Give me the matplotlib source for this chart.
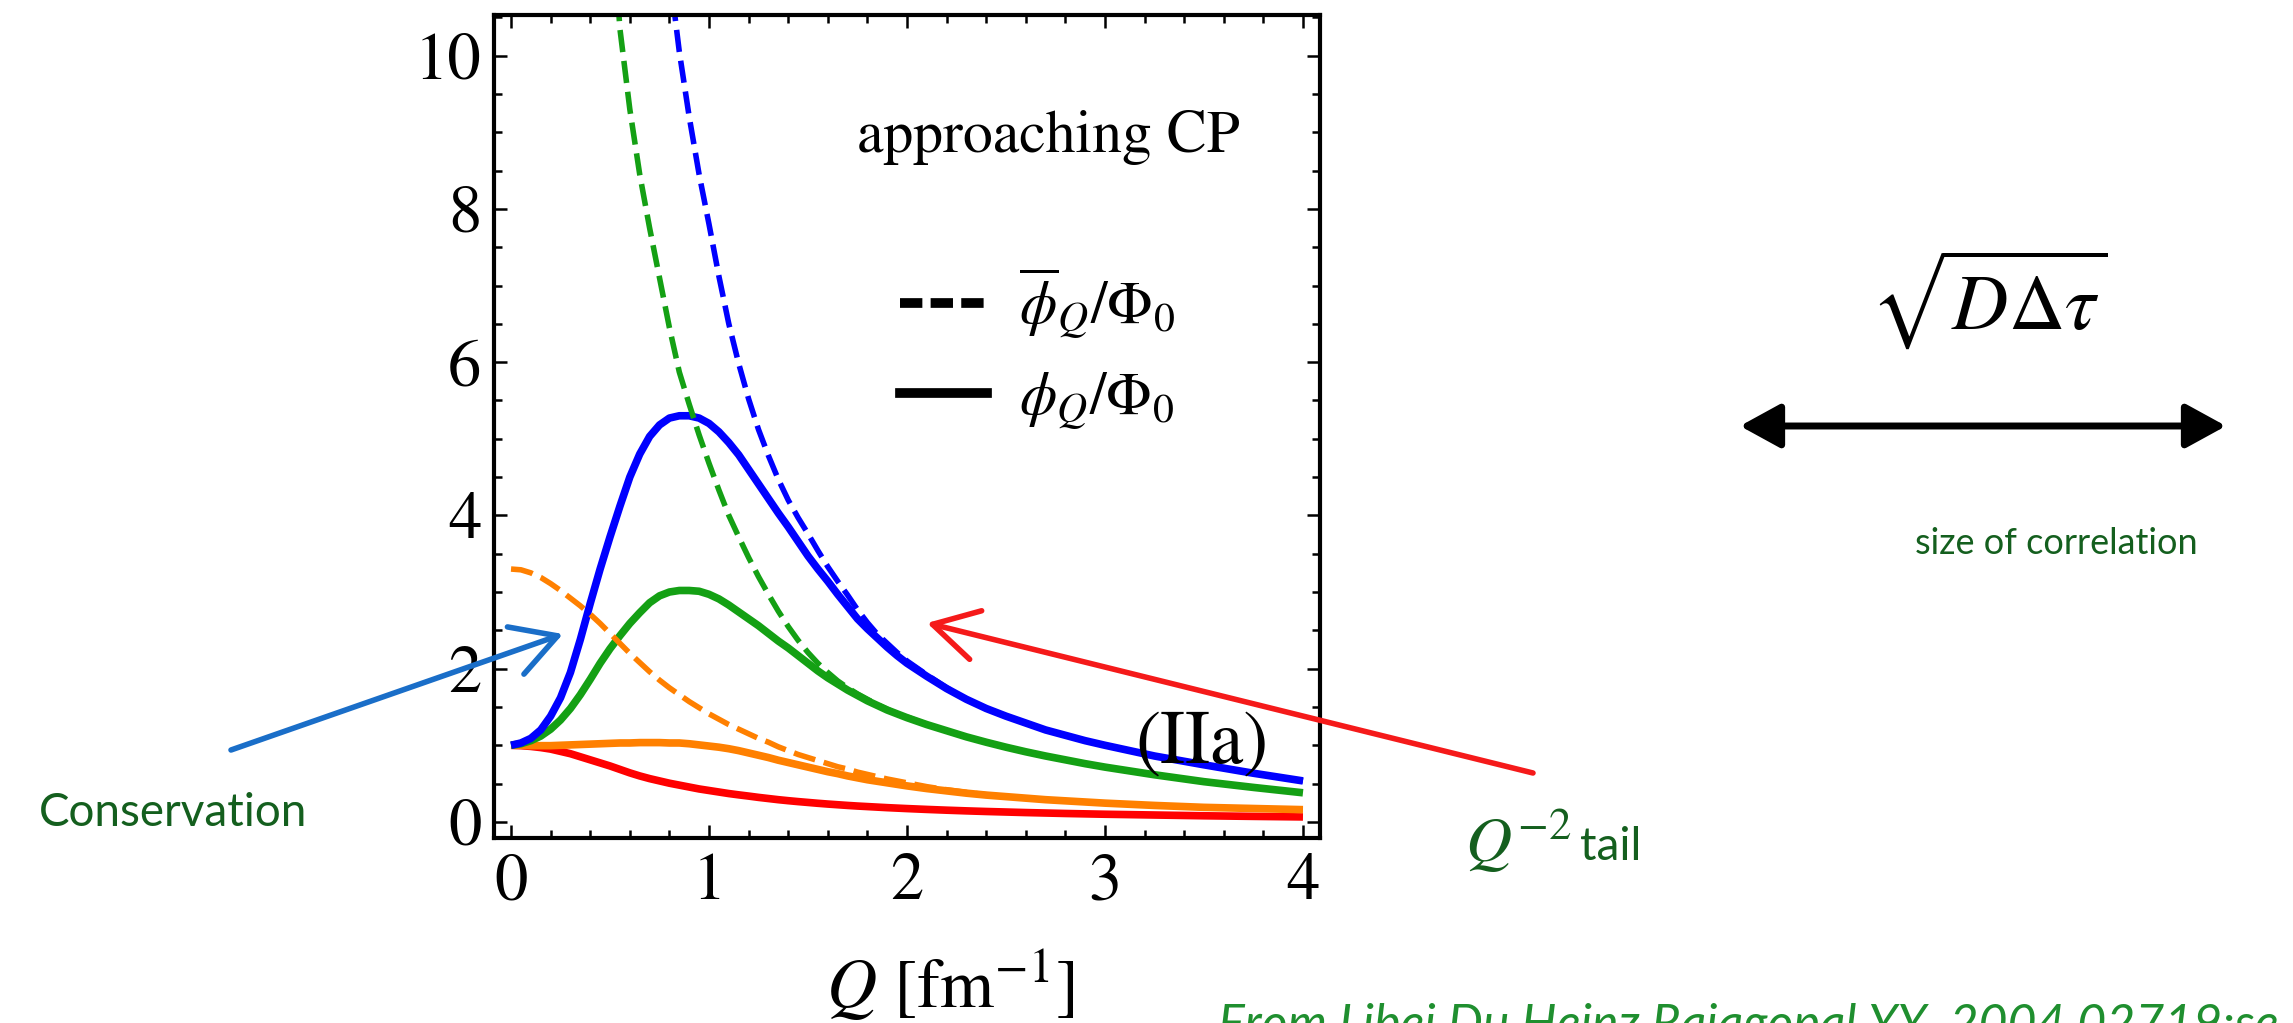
import matplotlib.pyplot as plt
from matplotlib.lines import Line2D
from matplotlib.patches import FancyArrowPatch
from matplotlib.ticker import MultipleLocator

plt.rcParams['mathtext.fontset'] = 'stix'
plt.rcParams['font.family'] = 'STIXGeneral'

# Q grid for the solid curves and the orange dashed one
q = [0.0, 0.05, 0.1, 0.15, 0.2, 0.25, 0.3, 0.35, 0.4, 0.45, 0.5, 0.55, 0.6, 0.65, 0.7,
     0.75, 0.8, 0.85, 0.9, 0.95, 1.0, 1.05, 1.1, 1.15, 1.2, 1.25, 1.3, 1.35, 1.4, 1.45,
     1.5, 1.55, 1.6, 1.65, 1.7, 1.75, 1.8, 1.85, 1.9, 1.95, 2.0,
     2.1, 2.2, 2.3, 2.4, 2.5, 2.6, 2.7, 2.8, 2.9, 3.0, 3.25, 3.5, 3.75, 4.0]

# phi_Q / Phi_0 (solid)
blue_solid = [1.0, 1.03, 1.09, 1.2, 1.38, 1.62, 1.95, 2.38, 2.85, 3.3, 3.72, 4.12, 4.5, 4.8, 5.03,
              5.18, 5.27, 5.3, 5.3, 5.27, 5.2, 5.09, 4.95, 4.79, 4.6, 4.41, 4.22, 4.03, 3.85, 3.66,
              3.47, 3.3, 3.14, 2.97, 2.81, 2.65, 2.52, 2.4, 2.28, 2.17, 2.07,
              1.9, 1.74, 1.6, 1.48, 1.38, 1.29, 1.2, 1.13, 1.06, 1.0, 0.86, 0.745, 0.635, 0.535]
green_solid = [1.0, 1.02, 1.06, 1.12, 1.21, 1.33, 1.48, 1.66, 1.86, 2.07, 2.26, 2.43, 2.59, 2.73, 2.86,
               2.95, 3.0, 3.02, 3.02, 3.01, 2.97, 2.91, 2.83, 2.74, 2.65, 2.56, 2.46, 2.36, 2.27, 2.17,
               2.07, 1.97, 1.88, 1.8, 1.72, 1.65, 1.58, 1.52, 1.46, 1.41, 1.36,
               1.27, 1.19, 1.11, 1.04, 0.975, 0.915, 0.86, 0.81, 0.76, 0.715, 0.615, 0.525, 0.45, 0.38]
orange_solid = [1.0, 1.0, 0.995, 0.995, 0.995, 1.0, 1.005, 1.01, 1.015, 1.02, 1.025, 1.03, 1.03, 1.035, 1.035,
                1.035, 1.03, 1.03, 1.02, 1.005, 0.99, 0.975, 0.955, 0.93, 0.9, 0.87, 0.84, 0.805, 0.775, 0.745,
                0.715, 0.685, 0.655, 0.63, 0.6, 0.575, 0.55, 0.53, 0.51, 0.49, 0.47,
                0.435, 0.405, 0.375, 0.35, 0.33, 0.31, 0.29, 0.275, 0.26, 0.245, 0.215, 0.19, 0.175, 0.16]
red_solid = [1.0, 0.995, 0.985, 0.97, 0.95, 0.92, 0.89, 0.85, 0.81, 0.77, 0.73, 0.685, 0.64, 0.6, 0.565,
             0.535, 0.505, 0.48, 0.455, 0.43, 0.41, 0.39, 0.37, 0.353, 0.337, 0.32, 0.305, 0.29, 0.277, 0.265,
             0.254, 0.243, 0.233, 0.224, 0.215, 0.207, 0.2, 0.193, 0.186, 0.18, 0.174,
             0.163, 0.153, 0.144, 0.136, 0.129, 0.122, 0.116, 0.11, 0.105, 0.1, 0.09, 0.08, 0.072, 0.065]

# phi-bar_Q / Phi_0 (dashed)
orange_dash = [3.3, 3.29, 3.25, 3.19, 3.11, 3.02, 2.92, 2.82, 2.71, 2.59, 2.46, 2.33, 2.2, 2.08, 1.96,
               1.85, 1.75, 1.66, 1.57, 1.49, 1.41, 1.34, 1.27, 1.21, 1.15, 1.09, 1.04, 0.98, 0.93, 0.88,
               0.84, 0.8, 0.76, 0.72, 0.69, 0.65, 0.62, 0.59, 0.56, 0.535, 0.51,
               0.46, 0.42, 0.385, 0.355, 0.33, 0.31, 0.29, 0.275, 0.26, 0.245, 0.215, 0.19, 0.175, 0.16]
q_green_dash = [0.5, 0.55, 0.6, 0.65, 0.7, 0.75, 0.8, 0.85, 0.9, 0.95, 1.0, 1.05, 1.1, 1.15, 1.2,
                1.25, 1.3, 1.35, 1.4, 1.45, 1.5, 1.55, 1.6, 1.65, 1.7, 1.75, 1.8, 1.85, 1.9, 1.95, 2.0,
                2.1, 2.2, 2.3, 2.4, 2.5, 2.6, 2.7, 2.8, 2.9, 3.0, 3.25, 3.5, 3.75, 4.0]
green_dash = [12.2, 10.35, 9.3, 8.45, 7.75, 7.1, 6.45, 5.87, 5.45, 5.05, 4.68, 4.33, 4.0, 3.72, 3.45,
              3.2, 2.97, 2.75, 2.55, 2.37, 2.21, 2.07, 1.95, 1.84, 1.75, 1.67, 1.6, 1.53, 1.47, 1.41, 1.37,
              1.27, 1.19, 1.11, 1.04, 0.975, 0.915, 0.86, 0.81, 0.76, 0.715, 0.615, 0.525, 0.45, 0.38]
q_blue_dash = [0.8, 0.85, 0.9, 0.95, 1.0, 1.05, 1.1, 1.15, 1.2, 1.25, 1.3, 1.35, 1.4, 1.45, 1.5,
               1.55, 1.6, 1.65, 1.7, 1.75, 1.8, 1.85, 1.9, 1.95, 2.0,
               2.1, 2.2, 2.3, 2.4, 2.5, 2.6, 2.7, 2.8, 2.9, 3.0, 3.25, 3.5, 3.75, 4.0]
blue_dash = [11.1, 10.05, 9.2, 8.45, 7.8, 7.12, 6.5, 5.98, 5.52, 5.12, 4.78, 4.47, 4.2, 3.97, 3.76,
             3.54, 3.33, 3.14, 2.96, 2.77, 2.6, 2.45, 2.33, 2.21, 2.1,
             1.92, 1.75, 1.6, 1.48, 1.38, 1.29, 1.2, 1.13, 1.06, 1.0, 0.86, 0.745, 0.635, 0.535]

x_ticks = [0, 1, 2, 3, 4]
y_ticks = [0, 2, 4, 6, 8, 10]

BLUE, GREEN, ORANGE, RED = '#0000ff', '#14a014', '#ff8000', '#ff0000'
DKGREEN = '#145f1e'

W, H = 2293, 1023


def fxy(x, y):
    # pixel position in the picture -> figure fraction
    return (x / W, 1 - y / H)


fig = plt.figure(figsize=(W / 100, H / 100), dpi=100)
ax = fig.add_axes([494 / W, 1 - 838 / H, (1320 - 494) / W, (838 - 15) / H])

lw_s, lw_d = 5.5, 4.0
ax.plot(q, red_solid, color=RED, lw=lw_s, solid_capstyle='butt')
ax.plot(q, orange_solid, color=ORANGE, lw=lw_s, solid_capstyle='butt')
ax.plot(q, green_solid, color=GREEN, lw=lw_s, solid_capstyle='butt')
ax.plot(q, blue_solid, color=BLUE, lw=lw_s, solid_capstyle='butt')
ax.plot(q, orange_dash, color=ORANGE, lw=lw_d, ls=(0, (4, 1.6)))
ax.plot(q_green_dash, green_dash, color=GREEN, lw=lw_d, ls=(0, (4, 1.6)))
ax.plot(q_blue_dash, blue_dash, color=BLUE, lw=lw_d, ls=(0, (4, 1.6)))

ax.set_xlim(-0.086, 4.086)
ax.set_ylim(-0.21, 10.53)
ax.set_xticks(x_ticks)
ax.set_yticks(y_ticks)
ax.xaxis.set_minor_locator(MultipleLocator(0.2))
ax.yaxis.set_minor_locator(MultipleLocator(0.5))
ax.tick_params(which='both', direction='in', top=True, right=True, width=1.8)
ax.tick_params(which='major', length=9.5)
ax.tick_params(which='minor', length=5.5)
ax.tick_params(axis='x', labelsize=48, pad=11)
ax.tick_params(axis='y', labelsize=48, pad=9)
for s in ax.spines.values():
    s.set_linewidth(3)

ax.text(3.49, 1.0, '(IIa)', ha='center', va='center', fontsize=54)
fig.text(*fxy(1240, 152), 'approaching CP', ha='right', va='baseline', fontsize=43)
fig.text(*fxy(950, 1008), r'$Q$ [fm$^{-1}$]', ha='center', va='baseline', fontsize=50)

handles = [Line2D([], [], color='k', lw=7, ls=(0, (2.3, 0.85))),
           Line2D([], [], color='k', lw=7)]
labels = [r'$\overline{\phi}_Q/\Phi_0$', r'$\phi_Q/\Phi_0$']
ax.legend(handles, labels, loc='upper left', bbox_to_anchor=fxy(900, 266),
          bbox_transform=fig.transFigure, frameon=False, fontsize=43,
          handlelength=1.45, handletextpad=0.55, labelspacing=0.5,
          borderpad=0, borderaxespad=0)

# annotations outside the plot
fig.text(*fxy(173, 813), 'Conservation', family='Lato', color=DKGREEN, fontsize=33,
         ha='center', va='center')
fig.text(*fxy(1465, 862), r'$Q^{-2}$', color=DKGREEN, fontsize=46, va='baseline')
fig.text(*fxy(1580, 860), 'tail', family='Lato', color=DKGREEN, fontsize=33, va='baseline')
fig.text(*fxy(2056, 544), 'size of correlation', family='Lato', color=DKGREEN, fontsize=26,
         ha='center', va='center')
fig.text(*fxy(1989, 300), r'$\sqrt{D\Delta\tau}$', fontsize=56, ha='center', va='center')
fig.text(*fxy(1218, 1040), 'From Libei Du Heinz Rajagopal YY, 2004.02719:se', family='Lato',
         style='italic', color='#1f8f2f', fontsize=36, va='baseline')

fig.add_artist(FancyArrowPatch(fxy(231, 750), fxy(563, 634), transform=fig.transFigure,
                               arrowstyle='->,head_length=1.6,head_width=0.9', mutation_scale=20,
                               lw=4, color='#1a6ec8', shrinkA=0, shrinkB=0))
fig.add_artist(FancyArrowPatch(fxy(1533, 773), fxy(927, 623), transform=fig.transFigure,
                               arrowstyle='->,head_length=1.6,head_width=0.9', mutation_scale=20,
                               lw=4, color='#f51a1a', shrinkA=0, shrinkB=0))
fig.add_artist(FancyArrowPatch(fxy(1740, 426), fxy(2226, 426), transform=fig.transFigure,
                               arrowstyle='<|-|>,head_length=0.62,head_width=0.34', mutation_scale=40,
                               lw=5, color='k', shrinkA=0, shrinkB=0))

fig.savefig('out.png', dpi=100)
